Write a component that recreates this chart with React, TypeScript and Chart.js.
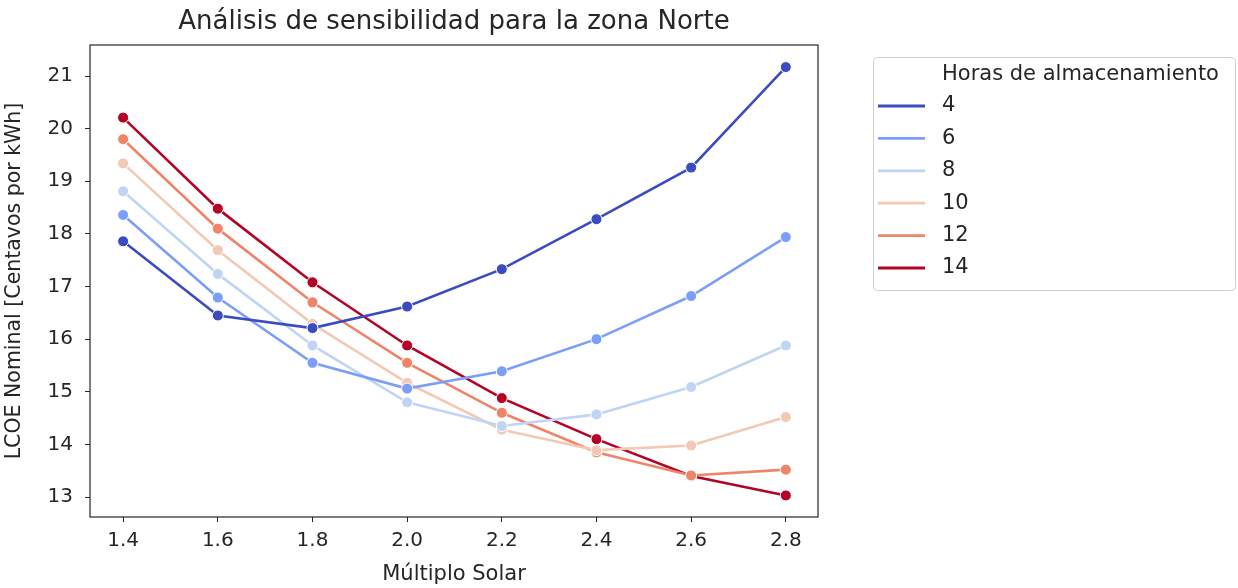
import React, { useEffect, useRef } from "react";
import { Chart, registerables } from "chart.js";

Chart.register(...registerables);

const multiples = [1.4, 1.6, 1.8, 2.0, 2.2, 2.4, 2.6, 2.8];
const hours = ["4", "6", "8", "10", "12", "14"];
const colors = ["#3b4cc0", "#7b9ff9", "#c0d4f5", "#f2c9b4", "#ee8468", "#b40426"];

const lcoe4 = [17.86, 16.45, 16.21, 16.62, 17.33, 18.28, 19.26, 21.17];
const lcoe6 = [18.36, 16.79, 15.55, 15.06, 15.39, 16.0, 16.82, 17.94];
const lcoe8 = [18.81, 17.24, 15.88, 14.8, 14.35, 14.57, 15.09, 15.88];
const lcoe10 = [19.34, 17.69, 16.29, 15.17, 14.28, 13.89, 13.98, 14.52];
const lcoe12 = [19.8, 18.1, 16.7, 15.55, 14.6, 13.85, 13.41, 13.52];
const lcoe14 = [20.21, 18.48, 17.08, 15.88, 14.88, 14.1, 13.4, 13.03];
const series = [lcoe4, lcoe6, lcoe8, lcoe10, lcoe12, lcoe14];

const yTicks = [13, 14, 15, 16, 17, 18, 19, 20, 21];

const titleText = "Análisis de sensibilidad para la zona Norte";
const xTitle = "Múltiplo Solar";
const yTitle = "LCOE Nominal [Centavos por kWh]";
const legendTitle = "Horas de almacenamiento";

const FONT = "'DejaVu Sans', sans-serif";
const BASE = 20;

const framePlugin = {
  id: "frameAndExtras",
  afterDraw(chart: any) {
    const { ctx, chartArea } = chart;
    ctx.save();
    ctx.strokeStyle = "#262626";
    ctx.lineWidth = 1.2;
    ctx.strokeRect(chartArea.left, chartArea.top, chartArea.right - chartArea.left, chartArea.bottom - chartArea.top);

    // title
    ctx.fillStyle = "#262626";
    ctx.font = `26px ${FONT}`;
    ctx.textAlign = "center";
    ctx.textBaseline = "middle";
    ctx.fillText(titleText, (chartArea.left + chartArea.right) / 2, 22);

    // legend
    const bx = 873, by = 57, bw = 362, bh = 233;
    ctx.strokeStyle = "#d0d0d0";
    ctx.lineWidth = 1;
    ctx.beginPath();
    (ctx as any).roundRect(bx + 0.5, by + 0.5, bw, bh, 4);
    ctx.stroke();
    ctx.font = `21px ${FONT}`;
    ctx.textAlign = "left";
    ctx.fillStyle = "#262626";
    ctx.fillText(legendTitle, 942, 75);
    chart.data.datasets.forEach((ds: any, i: number) => {
      const y = 106 + i * 32.4;
      ctx.strokeStyle = ds.borderColor;
      ctx.lineWidth = 2.8;
      ctx.beginPath();
      ctx.moveTo(878, y);
      ctx.lineTo(925, y);
      ctx.stroke();
      ctx.fillStyle = "#262626";
      ctx.fillText(ds.label, 942, y);
    });
    ctx.restore();
  },
};

export default function App() {
  const ref = useRef<HTMLCanvasElement>(null);
  useEffect(() => {
    if (!ref.current) return;
    const chart = new Chart(ref.current, {
      type: "line",
      data: {
        datasets: series.map((s, i) => ({
          label: hours[i],
          data: multiples.map((x, j) => ({ x, y: s[j] })),
          borderColor: colors[i],
          backgroundColor: colors[i],
          pointBackgroundColor: colors[i],
          pointBorderColor: "#ffffff",
          pointBorderWidth: 1,
          pointRadius: 5.5,
          borderWidth: 2.6,
          tension: 0,
        })),
      },
      options: {
        animation: false,
        responsive: false,
        devicePixelRatio: 1,
        layout: { padding: { left: 0, right: 420, top: 45, bottom: 0 } },
        plugins: {
          legend: { display: false },
          title: { display: false },
          tooltip: { enabled: false },
        },
        scales: {
          x: {
            type: "linear",
            min: 1.33,
            max: 2.868,
            afterFit: (s: any) => { s.height = 71; },
            afterBuildTicks: (s: any) => { s.ticks = multiples.map((v) => ({ value: v })); },
            ticks: {
              color: "#262626",
              font: { family: FONT, size: BASE },
              padding: 7,
              maxRotation: 0,
              callback: (v: any) => Number(v).toFixed(1),
            },
            grid: { drawOnChartArea: false, drawTicks: true, tickLength: 5, color: "#262626" },
            border: { display: false },
            title: {
              display: true,
              text: xTitle,
              color: "#262626",
              font: { family: FONT, size: 21 },
              padding: { top: 0, bottom: 1 },
            },
          },
          y: {
            type: "linear",
            min: 12.62,
            max: 21.59,
            afterFit: (s: any) => { s.width = 90; },
            afterBuildTicks: (s: any) => { s.ticks = yTicks.map((v) => ({ value: v })); },
            ticks: {
              color: "#262626",
              font: { family: FONT, size: BASE },
              padding: 12,
              callback: (v: any) => String(v),
            },
            grid: { drawOnChartArea: false, drawTicks: true, tickLength: 5, color: "#262626" },
            border: { display: false },
            title: {
              display: true,
              text: yTitle,
              color: "#262626",
              font: { family: FONT, size: 20.5 },
              padding: { top: 2, bottom: 0 },
            },
          },
        },
      },
      plugins: [framePlugin],
    } as any);
    return () => chart.destroy();
  }, []);
  return (
    <div style={{ position: "fixed", left: 0, top: 0, width: 1238, height: 588, background: "#fff" }}>
      <canvas ref={ref} width={1238} height={588} style={{ width: 1238, height: 588, display: "block" }} />
    </div>
  );
}
